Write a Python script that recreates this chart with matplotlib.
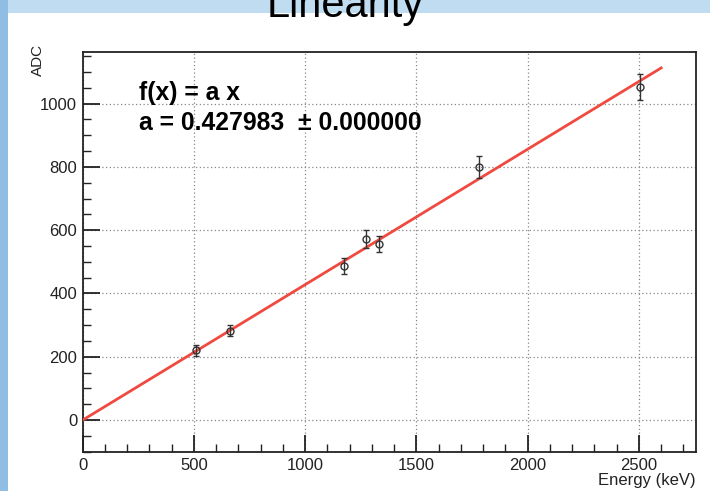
import matplotlib
matplotlib.use("Agg")
import matplotlib.pyplot as plt
from matplotlib.patches import Rectangle
import numpy as np

# ---- data ----
energy = [511, 662, 1173, 1274, 1332, 1779, 2505]
adc = [220, 282, 487, 572, 555, 800, 1052]
adc_err = [18, 18, 24, 28, 25, 35, 42]
slope = 0.427983
slope_err = 0.000000
fit_range = [0, 2600]
x_major = [0, 500, 1000, 1500, 2000, 2500]
y_major = [0, 200, 400, 600, 800, 1000]

plt.rcParams['font.family'] = ['Liberation Sans', 'DejaVu Sans']

W, H = 710, 491
fig = plt.figure(figsize=(W / 100, H / 100), dpi=100)
fig.patch.set_facecolor('#bfdcf0')

# white slide panel and left blue strip
fig.add_artist(Rectangle((7 / W, 0), 1 - 7 / W, 1 - 13 / H, transform=fig.transFigure,
                         facecolor='white', edgecolor='none', zorder=0))
fig.add_artist(Rectangle((0, 0), 8 / W, 1, transform=fig.transFigure,
                         facecolor='#8fbde3', edgecolor='none', zorder=0))

# clipped slide title
fig.text(345 / W, 1 - 17 / H, 'Linearity', ha='center', va='baseline',
         fontsize=30, color='black', zorder=1)

ax = fig.add_axes([82.75 / W, (H - 452) / H, (695.7 - 82.75) / W, (452 - 52) / H])
ax.set_facecolor('white')
ax.set_xlim(0, 2755)
ax.set_ylim(-101, 1163)

ax.set_xticks(x_major)
ax.set_yticks(y_major)
ax.set_xticks(np.arange(0, 2756, 100), minor=True)
ax.set_yticks(np.arange(-100, 1163, 50), minor=True)
ax.tick_params(axis='both', which='major', direction='in', length=12, width=1.3,
               labelsize=12, color='#222222', labelcolor='#222222')
ax.tick_params(axis='both', which='minor', direction='in', length=6, width=1,
               color='#222222')
ax.tick_params(axis='x', which='major', pad=4)
ax.tick_params(axis='y', which='major', pad=4)
ax.tick_params(top=False, right=False, which='both')

ax.grid(True, which='major', color='#888888', linestyle=(0, (1, 2)), linewidth=0.9)
for sp in ax.spines.values():
    sp.set_linewidth(1.3)
    sp.set_color('#222222')

xs = np.array(fit_range, dtype=float)
ax.plot(xs, slope * xs, color='#f04a40', linewidth=2, zorder=3)

ax.errorbar(energy, adc, yerr=adc_err, fmt='o', markersize=5, mfc='none',
            mec='#333333', mew=1, ecolor='#333333', elinewidth=1, capsize=2.5,
            zorder=4)

ax.set_xlabel('Energy (keV)', fontsize=12, color='#222222')
ax.xaxis.set_label_coords(1.0, -0.052)
ax.xaxis.label.set_ha('right')
ax.set_ylabel('ADC', fontsize=11, color='#222222')
ax.yaxis.set_label_coords(-0.073, 1.02)
ax.yaxis.label.set_ha('right')
ax.yaxis.label.set_va('center')

ax.text(139 / W, 1 - 93 / H, 'f(x) = a x', transform=fig.transFigure,
        fontsize=17.8, fontweight='bold', ha='left', va='center', zorder=5)
ax.text(139 / W, 1 - 123 / H, 'a = 0.427983  \u00b1 0.000000', transform=fig.transFigure,
        fontsize=17.8, fontweight='bold', ha='left', va='center', zorder=5)

fig.savefig('out.png', dpi=100, facecolor=fig.get_facecolor())
